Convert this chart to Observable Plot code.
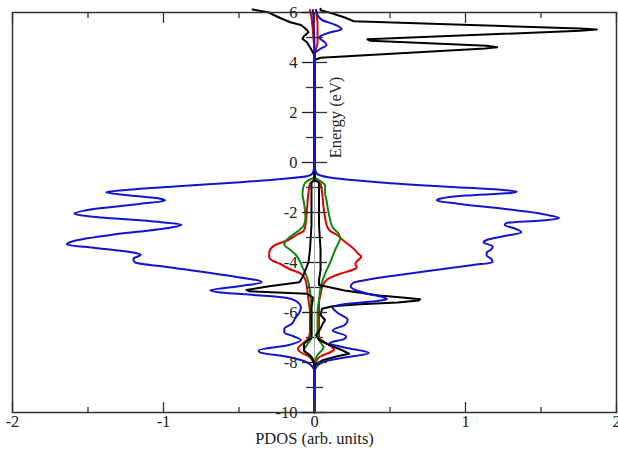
<!DOCTYPE html>
<html>
<head>
<meta charset="utf-8">
<script src="https://cdn.jsdelivr.net/npm/d3@7"></script>
<script src="https://cdn.jsdelivr.net/npm/@observablehq/plot@0.6"></script>
<style>
  html, body { margin: 0; padding: 0; background: #fff; }
  #chart { width: 618px; height: 452px; }
</style>
</head>
<body>
<div id="chart"></div>
<script>
// ---------- data (energy in eV, PDOS in arb. units; spin-down negative) ----------
const xLabel = "PDOS (arb. units)";
const yLabel = "Energy (eV)";
const xMajorTicks = [-2, -1, 0, 1, 2];
const xMinorTicks = [-1.5, -0.5, 0.5, 1.5];
const yMajorTicks = [-10, -8, -6, -4, -2, 0, 2, 4, 6];
const yMinorTicks = [-9, -7, -5, -3, -1, 1, 3, 5];
const yLabelAt = 1.8;

// blue (spin up, right)
const blueUpE = [6.1, 5.9, 5.7, 5.5, 5.33, 5.2, 5.0, 4.85, 4.7, 4.55, 4.35, 0, -0.3, -0.45, -0.52, -0.6, -0.7, -0.8, -0.96, -1.1, -1.16, -1.22, -1.32, -1.45, -1.52, -1.65, -1.85, -2.05, -2.23, -2.32, -2.42, -2.5, -2.65, -2.79, -2.95, -3.1, -3.2, -3.35, -3.48, -3.6, -3.72, -3.85, -3.99, -4.1, -4.3, -4.5, -4.7, -4.8, -4.95, -5.1, -5.25, -5.4, -5.47, -5.55, -5.65, -5.8, -6.0, -6.3, -6.5, -6.72, -6.95, -7.05, -7.22, -7.4, -7.62, -7.8, -7.95, -8.2, -8.4, -10];
const blueUp  = [0.01, 0.02, 0.05, 0.14, 0.18, 0.1, 0.03, 0.06, 0.08, 0.04, 0.0, 0, 0.005, 0.015, 0.04, 0.1, 0.25, 0.44, 0.85, 1.25, 1.34, 1.3, 1.0, 0.83, 0.81, 0.95, 1.25, 1.5, 1.62, 1.5, 1.27, 1.26, 1.33, 1.37, 1.25, 1.14, 1.12, 1.18, 1.17, 1.14, 1.14, 1.17, 1.18, 1.05, 0.8, 0.56, 0.34, 0.26, 0.24, 0.27, 0.35, 0.46, 0.48, 0.4, 0.22, 0.12, 0.15, 0.22, 0.2, 0.12, 0.21, 0.2, 0.1, 0.2, 0.36, 0.2, 0.07, 0.01, 0, 0];
// blue (spin down, left)
const blueDnE = [6.1, 5.5, 4.3, 0, -0.3, -0.45, -0.55, -0.65, -0.79, -0.96, -1.1, -1.19, -1.3, -1.45, -1.52, -1.65, -1.85, -2.05, -2.15, -2.35, -2.49, -2.6, -2.9, -3.15, -3.28, -3.42, -3.6, -3.69, -3.85, -3.99, -4.2, -4.5, -4.79, -4.95, -5.12, -5.2, -5.3, -5.4, -5.55, -5.8, -6.0, -6.25, -6.45, -6.65, -6.8, -6.95, -7.1, -7.3, -7.52, -7.6, -7.75, -7.92, -8.2, -8.4, -10];
const blueDn  = [-0.01, -0.005, 0, 0, -0.005, -0.015, -0.05, -0.2, -0.49, -0.93, -1.25, -1.38, -1.25, -1.02, -0.99, -1.15, -1.45, -1.59, -1.5, -1.08, -0.88, -0.95, -1.35, -1.6, -1.64, -1.45, -1.2, -1.15, -1.2, -1.19, -0.95, -0.6, -0.35, -0.5, -0.69, -0.62, -0.4, -0.2, -0.12, -0.09, -0.1, -0.13, -0.15, -0.2, -0.2, -0.14, -0.09, -0.17, -0.37, -0.36, -0.2, -0.08, -0.01, 0, 0];

// red
const redUpE = [6.1, 5.5, 4.8, 4.3, -0.7, -0.85, -1.2, -1.8, -2.2, -2.5, -2.72, -2.9, -3.12, -3.4, -3.65, -3.78, -3.9, -4.05, -4.2, -4.3, -4.45, -4.7, -5.0, -5.3, -5.6, -6.0, -6.5, -7.0, -7.2, -7.4, -7.5, -7.6, -7.75, -7.95, -8.1];
const redUp  = [0.01, 0.02, 0.02, 0, 0, 0.04, 0.05, 0.06, 0.07, 0.08, 0.1, 0.15, 0.19, 0.25, 0.29, 0.31, 0.29, 0.27, 0.28, 0.25, 0.17, 0.08, 0.05, 0.04, 0.03, 0.03, 0.03, 0.03, 0.07, 0.12, 0.13, 0.1, 0.04, 0.01, 0];
const redDnE = [6.1, 5.8, 5.2, 4.3, -0.7, -0.85, -1.2, -1.9, -2.5, -2.72, -2.9, -3.12, -3.3, -3.45, -3.6, -3.79, -3.95, -4.05, -4.25, -4.45, -4.7, -5.0, -5.5, -6.0, -6.8, -7.1, -7.3, -7.45, -7.6, -7.75, -7.95, -8.1];
const redDn  = [-0.03, -0.02, -0.01, 0, 0, -0.03, -0.04, -0.05, -0.06, -0.07, -0.12, -0.18, -0.26, -0.29, -0.3, -0.3, -0.27, -0.23, -0.17, -0.09, -0.06, -0.05, -0.04, -0.03, -0.03, -0.05, -0.09, -0.11, -0.09, -0.04, -0.01, 0];

// green
const greenUpE = [-0.6, -0.75, -0.92, -1.2, -1.52, -1.9, -2.19, -2.59, -2.85, -3.04, -3.2, -3.45, -3.75, -4.05, -4.45, -5.0, -5.5, -6.0, -6.8, -7.2, -7.39, -7.5, -7.7, -8.0];
const greenUp  = [0, 0.04, 0.07, 0.07, 0.08, 0.09, 0.1, 0.12, 0.16, 0.17, 0.16, 0.14, 0.12, 0.1, 0.07, 0.04, 0.03, 0.02, 0.02, 0.04, 0.06, 0.05, 0.02, 0];
const greenDnE = [-0.6, -0.75, -0.9, -1.25, -1.6, -2.19, -2.5, -2.65, -2.92, -3.12, -3.3, -3.45, -3.65, -4.19, -4.59, -5.12, -6.0, -7.0, -7.3, -7.52, -7.7, -8.0];
const greenDn  = [0, -0.05, -0.07, -0.08, -0.07, -0.06, -0.07, -0.09, -0.15, -0.19, -0.2, -0.17, -0.13, -0.08, -0.05, -0.03, -0.02, -0.02, -0.05, -0.07, -0.03, 0];

// black
const blackUpE = [6.15, 6.09, 5.96, 5.8, 5.65, 5.36, 5.32, 5.27, 4.93, 4.87, 4.67, 4.61, 4.56, 4.19, 4.1, -0.7, -0.8, -1.5, -2.5, -3.5, -4.3, -4.7, -4.9, -5.12, -5.32, -5.4, -5.47, -5.52, -5.6, -5.67, -5.75, -5.85, -6.1, -6.3, -6.5, -6.65, -6.9, -7.1, -7.3, -7.5, -7.65, -7.75, -7.9, -8.1, -10];
const blackUp  = [0.04, 0.04, 0.12, 0.2, 0.26, 1.76, 1.87, 1.76, 0.35, 0.37, 1.14, 1.21, 1.13, 0.04, 0, 0, 0.03, 0.03, 0.03, 0.04, 0.04, 0.03, 0.03, 0.2, 0.43, 0.58, 0.7, 0.69, 0.55, 0.3, 0.12, 0.05, 0.04, 0.07, 0.05, 0.04, 0.01, 0.03, 0.1, 0.18, 0.23, 0.15, 0.06, 0, 0];
const blackDnE = [6.12, 6.0, 5.9, 5.76, 5.61, 5.5, 5.41, 5.3, 5.21, 5.05, 4.95, 4.81, 4.61, 4.4, 4.28, -0.7, -0.8, -1.5, -2.5, -3.5, -4.0, -4.3, -4.6, -4.79, -4.95, -5.1, -5.15, -5.25, -5.4, -5.8, -6.5, -7.0, -7.25, -7.52, -7.79, -8.05, -10];
const blackDn  = [-0.41, -0.3, -0.27, -0.22, -0.16, -0.09, -0.07, -0.05, -0.04, -0.07, -0.08, -0.05, -0.03, -0.01, 0, 0, -0.02, -0.02, -0.02, -0.03, -0.04, -0.06, -0.08, -0.1, -0.3, -0.45, -0.43, -0.05, -0.01, -0.02, -0.02, -0.02, -0.07, -0.07, -0.02, 0, 0];

// ---------- layout ----------
const W = 618, H = 452;
const mL = 12, mR = 2, mT = 12, mB = 40;
const xDomain = [-2, 2], yDomain = [-10, 6];
const rows = (E, V) => E.map((e, i) => ({E: e, v: V[i]}));

const plotW = W - mL - mR, plotH = H - mT - mB;
const x0px = mL + plotW * (0 - xDomain[0]) / (xDomain[1] - xDomain[0]);

const BLUE = "#1414cc", RED = "#e00000", GREEN = "#0a8a0a", BLACK = "#000000";
const fmt = d => String(d);
const noLabel = () => "";
const lineOpts = (stroke, curve) => ({x: "v", y: "E", stroke, strokeWidth: 2, curve});
const tickOpts = {label: null, tickFormat: noLabel, stroke: "#333", strokeWidth: 1.3};

const chart = Plot.plot({
  width: W, height: H,
  marginLeft: mL, marginRight: mR, marginTop: mT, marginBottom: mB,
  x: {domain: xDomain},
  y: {domain: yDomain},
  style: {fontFamily: "'Liberation Serif', 'Times New Roman', serif", fontSize: "16.5px", background: "#fff", color: "#222", overflow: "visible"},
  marks: [
    Plot.ruleX([0], {stroke: "#aaa", strokeWidth: 1}),
    Plot.line(rows(redUpE, redUp), lineOpts(RED, "monotone-y")),
    Plot.line(rows(redDnE, redDn), lineOpts(RED, "monotone-y")),
    Plot.line(rows(greenUpE, greenUp), lineOpts(GREEN, "monotone-y")),
    Plot.line(rows(greenDnE, greenDn), lineOpts(GREEN, "monotone-y")),
    Plot.line(rows(blackUpE, blackUp), lineOpts(BLACK, "linear")),
    Plot.line(rows(blackDnE, blackDn), lineOpts(BLACK, "linear")),
    Plot.line(rows(blueUpE, blueUp), lineOpts(BLUE, "monotone-y")),
    Plot.line(rows(blueDnE, blueDn), lineOpts(BLUE, "monotone-y")),
    Plot.frame({stroke: "#333", strokeWidth: 1.5}),
    // bottom frame ticks (pointing inward) and labels
    Plot.axisX(xMajorTicks, {...tickOpts, anchor: "top", dy: plotH, tickSize: 11}),
    Plot.axisX(xMinorTicks, {...tickOpts, anchor: "top", dy: plotH, tickSize: 6}),
    Plot.axisX(xMajorTicks, {anchor: "bottom", tickSize: 0, tickPadding: 3, tickFormat: fmt, label: null, fill: "#222"}),
    // top frame ticks (pointing inward)
    Plot.axisX(xMajorTicks, {...tickOpts, anchor: "bottom", dy: -plotH, tickSize: 11}),
    Plot.axisX(xMinorTicks, {...tickOpts, anchor: "bottom", dy: -plotH, tickSize: 6}),
    // energy axis drawn at x = 0
    Plot.axisY(yMajorTicks, {anchor: "left", dx: x0px - mL, tickSize: 12, tickPadding: 5, tickFormat: fmt, label: null, stroke: "#222", strokeWidth: 1.3, fill: "#222"}),
    Plot.axisY(yMajorTicks, {...tickOpts, anchor: "right", dx: x0px - (W - mR), tickSize: 12}),
    Plot.axisY(yMinorTicks, {...tickOpts, anchor: "left", dx: x0px - mL, tickSize: 8}),
    Plot.axisY(yMinorTicks, {...tickOpts, anchor: "right", dx: x0px - (W - mR), tickSize: 8}),
    Plot.text([yLabel], {x: 0, y: yLabelAt, text: d => d, rotate: -90, dx: 21, fill: "#222"}),
    Plot.text([xLabel], {frameAnchor: "bottom", text: d => d, dy: 31, fill: "#222"})
  ]
});
document.getElementById("chart").appendChild(chart);
</script>
</body>
</html>
